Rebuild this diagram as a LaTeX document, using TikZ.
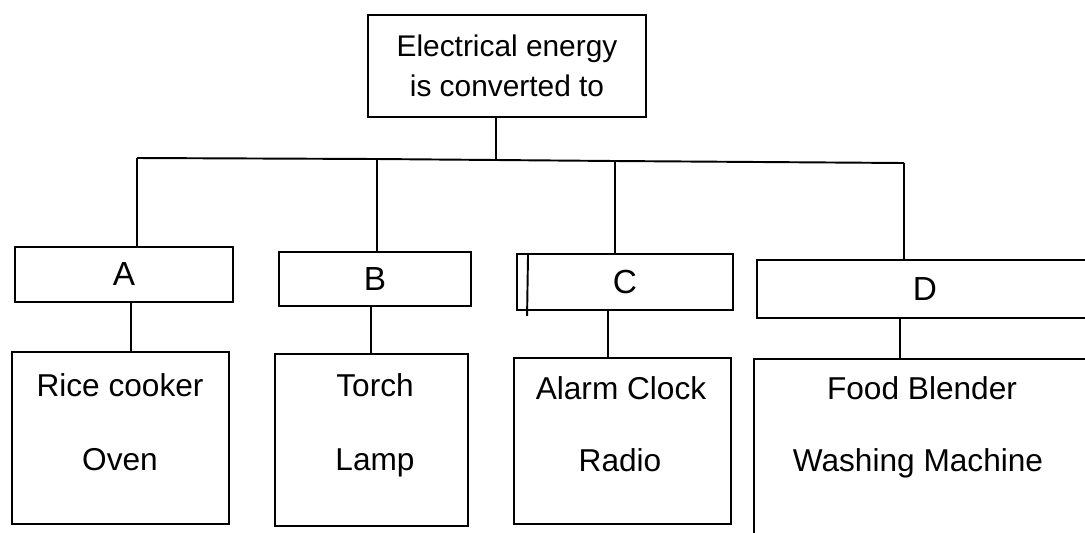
\documentclass[tikz,border=0pt]{standalone}
\usepackage{fontspec}
\setmainfont{Liberation Sans}
\begin{document}
\begin{tikzpicture}[x=0.02cm,y=-0.02cm,line width=1.1pt,
  box/.style={draw,inner sep=0pt,font=\fontsize{19}{22}\selectfont},
  item/.style={inner sep=0pt,text height=13pt,text depth=4pt,font=\fontsize{18}{21}\selectfont}]
\path[use as bounding box] (0,0) rectangle (1085,532);
\clip (0,0) rectangle (1085,532);

\node[box,minimum width=5.56cm,minimum height=2.04cm,align=center,
  font=\fontsize{17}{23}\selectfont] (top) at (507,66) {Electrical energy\\is converted to};

\node[box,minimum width=4.36cm,minimum height=1.1cm] (A) at (124,274.5) {A};
\node[box,minimum width=3.84cm,minimum height=1.08cm] (B) at (375,279) {B};
\node[box,minimum width=4.32cm,minimum height=1.12cm] (C) at (625,282) {C};
\node[box,minimum width=6.72cm,minimum height=1.16cm] (D) at (925,289) {D};

\node[box,minimum width=4.34cm,minimum height=3.44cm] (lowA) at (120.5,438) {};
\node[box,minimum width=3.86cm,minimum height=3.44cm] (lowB) at (371.5,440) {};
\node[box,minimum width=4.34cm,minimum height=3.32cm] (lowC) at (622.5,441) {};
\node[box,minimum width=6.82cm,minimum height=4.02cm] (lowD) at (924.5,459.5) {};

\node[item] (rice) at (120,389) {Rice cooker};
\node[item] (oven) at (120,463) {Oven};
\node[item] (torch) at (375,389) {Torch};
\node[item] (lamp) at (375,463) {Lamp};
\node[item] (alarm) at (621,392) {Alarm Clock};
\node[item] (radio) at (620,464) {Radio};
\node[item] (blender) at (922,392) {Food Blender};
\node[item] (washer) at (918,464) {Washing Machine};

\coordinate (split) at (496,160);
\coordinate (busA) at (137,158);
\coordinate (busB) at (377,159);
\coordinate (busC) at (615,161);
\coordinate (busD) at (904,163);
\coordinate (dropA) at (131,0);
\coordinate (dropB) at (371,0);
\coordinate (dropC) at (608,0);
\coordinate (dropD) at (900,0);

\draw (top.south -| split) -- (split);
\draw (busA) -- (busB) -- (busC) -- (busD);
\foreach \n in {A,B,C,D}
  \draw (bus\n) -- (\n.north -| bus\n);
\foreach \n in {A,B,C,D}
  \draw (\n.south -| drop\n) -- (low\n.north -| drop\n);

\draw ([xshift=0.24cm]C.north west) -- ([xshift=0.22cm,yshift=-0.1cm]C.south west);
\end{tikzpicture}
\end{document}
